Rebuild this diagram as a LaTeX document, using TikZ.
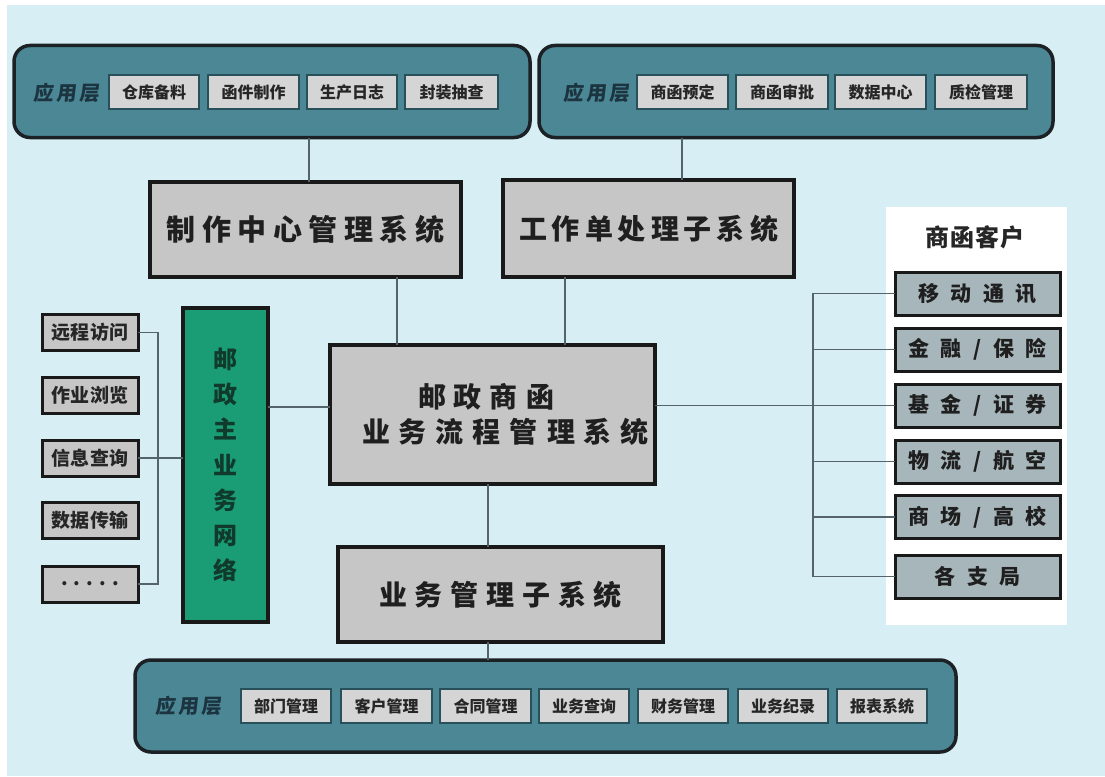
\documentclass[tikz,border=0pt]{standalone}
\usepackage{fontspec}
\setmainfont{Noto Sans CJK SC}
\newfontfamily\slfont[FakeSlant=0.12]{Noto Sans CJK SC}
\definecolor{bgblue}{HTML}{D8EEF5}
\definecolor{layerfill}{HTML}{4C8796}
\definecolor{layerline}{HTML}{1B2124}
\definecolor{itemfill}{HTML}{D5D5D5}
\definecolor{itemline}{HTML}{28505A}
\definecolor{boxfill}{HTML}{C6C6C6}
\definecolor{greenfill}{HTML}{1A9C74}
\definecolor{greentext}{HTML}{0F3A2C}
\definecolor{rightfill}{HTML}{A7B6BB}
\definecolor{connline}{HTML}{54646A}
\definecolor{labeltext}{HTML}{1B3440}
\def\xspread#1#2{\def\xsgap{#1}\xsloop#2\relax}
\def\xsgobble#1{}
\def\xsloop#1#2{#1\ifx\relax#2\expandafter\xsgobble\else\hspace{\xsgap}\expandafter\xsloop\fi#2}
\tikzset{
  base/.style={rectangle,inner sep=0pt,outer sep=0pt,anchor=center},
  applayer/.style={base,rounded corners=16pt,fill=layerfill,draw=layerline,line width=3.5pt},
  appitem/.style={base,fill=itemfill,draw=itemline,line width=1.6pt,minimum height=34pt,
    font=\fontsize{16}{18}\selectfont\bfseries,text=black!85},
  applabel/.style={base,font=\fontsize{20}{22}\slfont\bfseries,text=labeltext},
  mainbox/.style={base,fill=boxfill,draw=black!90,line width=3.5pt,text=black!88},
  leftbox/.style={base,fill=boxfill,draw=black!90,line width=3pt,minimum width=96pt,minimum height=36pt,
    font=\fontsize{19}{21}\selectfont\bfseries,text=black!85},
  rightbox/.style={base,fill=rightfill,draw=black!90,line width=3pt,minimum width=165pt,minimum height=43pt,
    font=\fontsize{21}{23}\selectfont\bfseries,text=black!88},
  greenbox/.style={base,fill=greenfill,draw=black!90,line width=3.5pt,text=greentext,align=center,
    font=\fontsize{24}{35.2}\selectfont\bfseries},
  panel/.style={base,fill=white,draw=none},
  conn/.style={draw=connline,line width=1.6pt},
}
\begin{document}
\begin{tikzpicture}[x=1pt,y=-1pt]
\fill[white] (0,0) rectangle (1105,776);
\fill[bgblue] (7,5) rectangle (1105,776);
\useasboundingbox (0,0) rectangle (1105,776);

% application layers
\node[applayer,minimum width=516pt,minimum height=92pt] (appTL) at (272,91.5) {};
\node[applayer,minimum width=514pt,minimum height=92pt] (appTR) at (796,91.5) {};
\node[applayer,minimum width=821pt,minimum height=92pt] (appB) at (545.5,706) {};

\node[applabel] (labTL) at (66.5,93) {\xspread{3pt}{应用层}};
\node[appitem,minimum width=90pt] (t1) at (154,92) {仓库备料};
\node[appitem,minimum width=91pt] (t2) at (253.5,92) {函件制作};
\node[appitem,minimum width=90pt] (t3) at (352,92) {生产日志};
\node[appitem,minimum width=93pt] (t4) at (451.5,92) {封装抽查};

\node[applabel] (labTR) at (596.5,93) {\xspread{3pt}{应用层}};
\node[appitem,minimum width=91pt] (u1) at (682.5,92) {商函预定};
\node[appitem,minimum width=92pt] (u2) at (782,92) {商函审批};
\node[appitem,minimum width=91pt] (u3) at (880.5,92) {数据中心};
\node[appitem,minimum width=92pt] (u4) at (981,92) {质检管理};

\node[applabel] (labB) at (188.5,706) {\xspread{3pt}{应用层}};
\node[appitem,minimum width=90pt] (b1) at (286,706) {部门管理};
\node[appitem,minimum width=91pt] (b2) at (386.5,706) {客户管理};
\node[appitem,minimum width=91pt] (b3) at (485.5,706) {合同管理};
\node[appitem,minimum width=90pt] (b4) at (584,706) {业务查询};
\node[appitem,minimum width=90pt] (b5) at (683,706) {财务管理};
\node[appitem,minimum width=90pt] (b6) at (783,706) {业务纪录};
\node[appitem,minimum width=90pt] (b7) at (882,706) {报表系统};

% main boxes
\node[mainbox,minimum width=311pt,minimum height=95pt,font=\fontsize{29}{32}\selectfont\bfseries] (zhizuo) at (305.5,229.5) {\xspread{6.5pt}{制作中心管理系统}};
\node[mainbox,minimum width=291pt,minimum height=97pt,font=\fontsize{28}{32}\selectfont\bfseries] (gongzuo) at (648.5,228.5) {\xspread{5pt}{工作单处理子系统}};
\node[mainbox,minimum width=325pt,minimum height=139pt,align=left,font=\fontsize{28}{35}\selectfont\bfseries] (center) at (492.5,414.5)
  {\hspace*{82pt}\xspread{8pt}{邮政商函}\\\hspace*{26pt}\xspread{9pt}{业务流程管理系统}};
\node[mainbox,minimum width=325pt,minimum height=95pt,font=\fontsize{28}{32}\selectfont\bfseries] (yewu) at (500.5,594.5) {\xspread{7.8pt}{业务管理子系统}};

% left column
\node[greenbox,minimum width=85pt,minimum height=314pt] (green) at (225.5,465) {邮\\政\\主\\业\\务\\网\\络};
\node[leftbox] (l1) at (90,332.5) {\xspread{0.5pt}{远程访问}};
\node[leftbox] (l2) at (90,395) {\xspread{0.5pt}{作业浏览}};
\node[leftbox] (l3) at (90,458) {\xspread{0.5pt}{信息查询}};
\node[leftbox] (l4) at (90,520.5) {\xspread{0.5pt}{数据传输}};
\node[leftbox] (l5) at (90,584) {\xspread{6pt}{.....}};

% right column
\node[panel,minimum width=181pt,minimum height=418pt] (panel) at (976.5,416) {};
\node[base,font=\fontsize{24}{26}\selectfont\bfseries,text=black!85] (title) at (975,237) {\xspread{1pt}{商函客户}};
\node[rightbox] (r1) at (977.5,293.5) {\xspread{11.5pt}{移动通讯}};
\node[rightbox] (r2) at (977.5,349.5) {\xspread{11.5pt}{金融/保险}};
\node[rightbox] (r3) at (977.5,405.5) {\xspread{11.5pt}{基金/证券}};
\node[rightbox] (r4) at (977.5,461.5) {\xspread{11.5pt}{物流/航空}};
\node[rightbox] (r5) at (977.5,517) {\xspread{11.5pt}{商场/高校}};
\node[rightbox] (r6) at (977.5,576.5) {\xspread{11.5pt}{各支局}};

% connector coordinates
\coordinate (c1) at (309,0);
\coordinate (c2) at (682,0);
\coordinate (c3) at (397,0);
\coordinate (c4) at (565,0);
\coordinate (c5) at (488,0);
\coordinate (c6) at (0,407);
\coordinate (cb) at (158,0);
\coordinate (cr) at (813,0);

\draw[conn] (appTL.south -| c1) -- (zhizuo.north -| c1);
\draw[conn] (appTR.south -| c2) -- (gongzuo.north -| c2);
\draw[conn] (zhizuo.south -| c3) -- (center.north -| c3);
\draw[conn] (gongzuo.south -| c4) -- (center.north -| c4);
\draw[conn] (center.south -| c5) -- (yewu.north -| c5);
\draw[conn] (yewu.south -| c5) -- (appB.north -| c5);
\draw[conn] (green.east |- c6) -- (center.west |- c6);
\draw[conn] (l3.east) -- (green.west |- l3.east);
\draw[conn] (l1.east) -- (l1.east -| cb) -- (l5.east -| cb) -- (l5.east);
\draw[conn] (center.east |- r3.west) -- (r3.west);
\draw[conn] (r1.west) -- (r1.west -| cr) -- (r6.west -| cr) -- (r6.west);
\draw[conn] (r2.west) -- (r2.west -| cr);
\draw[conn] (r4.west) -- (r4.west -| cr);
\draw[conn] (r5.west) -- (r5.west -| cr);
\end{tikzpicture}
\end{document}
